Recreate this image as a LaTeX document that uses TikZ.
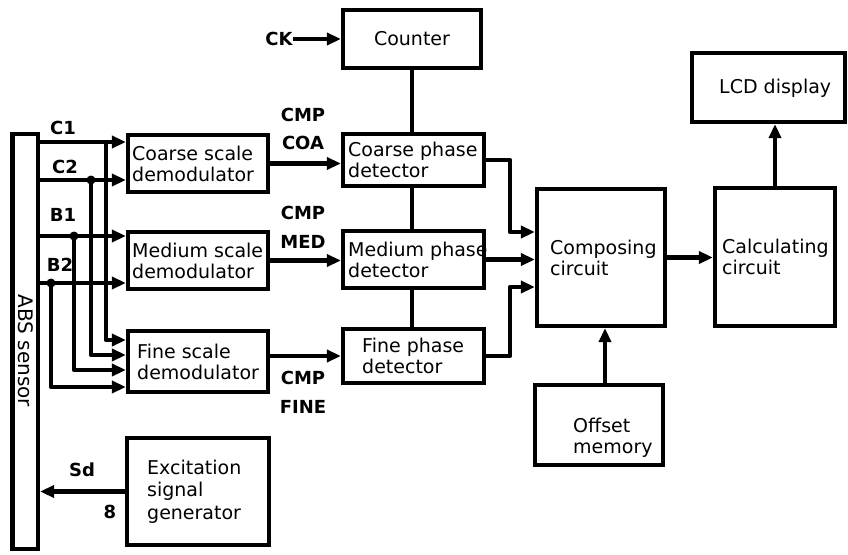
\documentclass[tikz,border=0pt]{standalone}
\usepackage{fontspec}
\setmainfont{DejaVu Sans}
\usetikzlibrary{arrows.meta,calc}
\begin{document}
\begin{tikzpicture}[x=1pt,y=-1pt,
  box/.style={draw,line width=4.2pt,inner sep=0pt},
  ln/.style={line width=4.2pt},
  arr/.style={line width=4.2pt,line join=round,-{Triangle[length=14pt,width=12pt]}},
  lab/.style={font=\fontsize{18}{20}\selectfont\bfseries,inner sep=0pt},
  txt/.style={font=\fontsize{19}{21}\selectfont,align=left,inner sep=0pt,anchor=west}]
\useasboundingbox (0,0) rectangle (848,554);

% boxes
\node[box,minimum width=138pt,minimum height=58pt] (counter) at (412,39) {};
\node[box,minimum width=141pt,minimum height=52pt] (cph) at (413.5,160) {};
\node[box,minimum width=141pt,minimum height=57pt] (mph) at (413.5,259.5) {};
\node[box,minimum width=141pt,minimum height=54pt] (fph) at (413.5,356) {};
\node[box,minimum width=140pt,minimum height=57pt] (cdm) at (198,163.5) {};
\node[box,minimum width=140pt,minimum height=57pt] (mdm) at (198,260.5) {};
\node[box,minimum width=140pt,minimum height=61pt] (fdm) at (198,361.5) {};
\node[box,minimum width=128pt,minimum height=137pt] (cmp) at (601,257.5) {};
\node[box,minimum width=120pt,minimum height=138pt] (calc) at (775,257) {};
\node[box,minimum width=153pt,minimum height=69pt] (lcd) at (768.5,87.5) {};
\node[box,minimum width=128pt,minimum height=80pt] (off) at (599,425) {};
\node[box,minimum width=142pt,minimum height=107pt] (exc) at (198,491.5) {};
\node[box,minimum width=25.5pt,minimum height=415pt] (bar) at (25.25,341.5) {};

% box texts
\node[txt,anchor=center] (countert) at (counter.center) {Counter};
\node[txt] (cpht) at (348,160) {Coarse phase\\detector};
\node[txt] (mpht) at (348,259.5) {Medium phase\\detector};
\node[txt] (fpht) at (362,356) {Fine phase\\detector};
\node[txt] (cdmt) at (132,163.5) {Coarse scale\\demodulator};
\node[txt] (mdmt) at (132,260.5) {Medium scale\\demodulator};
\node[txt] (fdmt) at (137,361.5) {Fine scale\\demodulator};
\node[txt] (cmpt) at (550,257.5) {Composing\\circuit};
\node[txt] (calct) at (722,257) {Calculating\\circuit};
\node[txt] (lcdt) at (719,88) {LCD display};
\node[txt] (offt) at (573,438) {Offset\\memory};
\node[txt,font=\fontsize{19}{22.5}\selectfont] (exct) at (147,491.5) {Excitation\\signal\\generator};
\node[rotate=-90,font=\fontsize{20}{22}\selectfont,inner sep=0pt] (abs) at (26,351) {ABS sensor};

% labels
\node[lab] (ck) at (279,39) {CK};
\node[lab] (c1l) at (63,128) {C1};
\node[lab] (c2l) at (65,167) {C2};
\node[lab] (b1l) at (63,215) {B1};
\node[lab] (b2l) at (60,265) {B2};
\node[lab] (cmpa) at (303,115) {CMP};
\node[lab] (coa) at (303,143) {COA};
\node[lab] (cmpb) at (303,213) {CMP};
\node[lab] (med) at (303,242) {MED};
\node[lab] (cmpc) at (303,378) {CMP};
\node[lab] (fine) at (303,407) {FINE};
\node[lab] (sd) at (82,470) {Sd};
\node[lab] (eight) at (110,512) {8};

% helper coordinates
\coordinate (yc1) at (0,142);
\coordinate (yc2) at (0,180);
\coordinate (yb1) at (0,236);
\coordinate (yb2) at (0,283);
\coordinate (xc1) at (106,0);
\coordinate (xc2) at (91,0);
\coordinate (xb1) at (74,0);
\coordinate (xb2) at (51,0);
\coordinate (yf1) at (0,340);
\coordinate (yf2) at (0,355);
\coordinate (yf3) at (0,370);
\coordinate (yf4) at (0,387);
\coordinate (k1) at (510,232);
\coordinate (k3) at (510,287);
\coordinate (xo) at (605,0);

% sensor signals
\draw[arr] (bar.east |- yc1) -- (cdm.west |- yc1);
\draw[arr] (bar.east |- yc2) -- (cdm.west |- yc2);
\draw[arr] (bar.east |- yb1) -- (mdm.west |- yb1);
\draw[arr] (bar.east |- yb2) -- (mdm.west |- yb2);
\draw[arr] (xc1 |- yc1) |- (fdm.west |- yf1);
\draw[arr] (xc2 |- yc2) |- (fdm.west |- yf2);
\draw[arr] (xb1 |- yb1) |- (fdm.west |- yf3);
\draw[arr] (xb2 |- yb2) |- (fdm.west |- yf4);
\fill (xc2 |- yc2) circle (4.5);
\fill (xb1 |- yb1) circle (4.5);
\fill (xb2 |- yb2) circle (4.5);

% demodulators to detectors
\draw[arr] (cdm.east) -- (cdm.east -| cph.west);
\draw[arr] (mdm.east) -- (mdm.east -| mph.west);
\draw[arr] (fph.west -| fdm.east) -- (fph.west);

% counter chain
\draw[arr] (ck.east) -- (counter.west);
\draw[ln] (counter.south) -- (counter.south |- cph.north);
\draw[ln] (cph.south -| counter.south) -- (mph.north -| counter.south);
\draw[ln] (mph.south -| counter.south) -- (fph.north -| counter.south);

% detectors to composing
\draw[arr] (cph.east) -| (k1) -- (k1 -| cmp.west);
\draw[arr] (mph.east) -- (mph.east -| cmp.west);
\draw[arr] (fph.east) -| (k3) -- (k3 -| cmp.west);

% right side
\draw[arr] (cmp.east) -- (cmp.east -| calc.west);
\draw[arr] (calc.north) -- (calc.north |- lcd.south);
\draw[arr] (off.north -| xo) -- (cmp.south -| xo);

% excitation
\draw[arr] (exc.west) -- (exc.west -| bar.east);
\end{tikzpicture}
\end{document}
